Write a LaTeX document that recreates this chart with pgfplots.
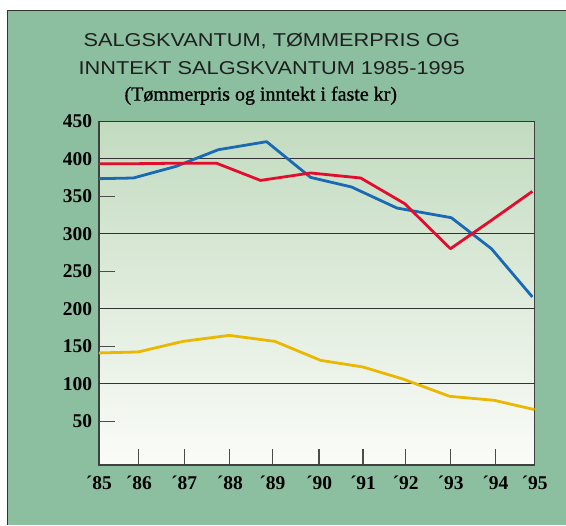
\documentclass[border=0pt]{standalone}
\usepackage{fontspec}
\usepackage{pgfplots}
\pgfplotsset{compat=1.18}
\setmainfont{Liberation Serif}
\newfontfamily\titlefont{Liberation Sans}[FakeStretch=1.17]
\newfontfamily\subfont{Liberation Serif}[FakeBold=0.8]
\definecolor{framegreen}{RGB}{140,190,160}
\definecolor{plottop}{RGB}{194,219,191}
\definecolor{plotbottom}{RGB}{251,252,249}
\definecolor{sblue}{RGB}{25,105,180}
\definecolor{sred}{RGB}{226,12,45}
\definecolor{syellow}{RGB}{234,184,0}
\begin{document}
\begin{tikzpicture}[x=1pt,y=1pt]
\fill[white] (0,0) rectangle (566,-525);
\fill[framegreen] (8,-11) rectangle (566,-525);
\draw[black!80, line width=1pt] (8,-525) -- (8,-11) -- (566,-11);
\node[font=\titlefont\fontsize{18.6}{22}\selectfont, anchor=base, inner sep=0pt, text=black!88] at (272,-46.7) {SALGSKVANTUM, TØMMERPRIS OG};
\node[font=\titlefont\fontsize{18.6}{22}\selectfont, anchor=base, inner sep=0pt, text=black!88] at (272,-74.3) {INNTEKT SALGSKVANTUM 1985-1995};
\node[font=\subfont\fontsize{20}{22}\selectfont, anchor=base, inner sep=0pt] at (261,-100.7) {(Tømmerpris og inntekt i faste kr)};
\begin{axis}[
  at={(99pt,-465.3pt)}, anchor=south west,
  scale only axis, width=436pt, height=344pt,
  xmin=0, xmax=10, ymin=-8, ymax=450,
  axis background/.style={shade, top color=plottop, bottom color=plotbottom},
  axis line style={draw=black!75, line width=1.3pt},
  xtick={0,0.917,1.956,3.005,3.984,5.053,6.062,7.041,8.073,9.099,10},
  xticklabels={´85,´86,´87,´88,´89,´90,´91,´92,´93,´94,´95},
  ytick={50,150,250,350},
  extra y ticks={100,200,300,400,450},
  extra y tick style={grid=major, major tick length=0pt, major grid style={draw=black!80, line width=1.2pt}},
  tick align=inside, major tick length=16pt,
  xtick pos=bottom, ytick pos=left,
  tick style={draw=black!70, line width=1.1pt},
  ticklabel style={font=\fontsize{19.5}{20}\selectfont\bfseries},
  yticklabel style={anchor=east, inner sep=0pt, xshift=-6.5pt},
  xticklabel style={anchor=north, inner sep=0pt, yshift=-11pt},
  /pgf/number format/assume math mode=true,
  every axis plot/.append style={line width=2.8pt, line join=round, mark=none},
]
\addplot[syellow] coordinates {(0,141.2)(0.90,142.5)(1.93,156.6)(2.99,164.6)(4.04,156.6)(5.09,131.3)(6.06,122.5)(6.97,106.6)(8.05,83.4)(9.07,78.1)(10,65.7)};
\addplot[sblue] coordinates {(0,373.4)(0.79,374.3)(1.77,389.8)(2.74,412)(3.85,422.7)(4.86,375.1)(5.80,362.3)(6.84,334.3)(8.09,321.4)(9.01,280.1)(9.95,215.8)};
\addplot[sred] coordinates {(0,393.4)(0.89,393.4)(1.77,394)(2.70,394)(3.71,371.1)(4.86,381)(6.01,374.3)(7.02,340.1)(8.07,280.1)(9.0,317.5)(9.95,356.5)};
\end{axis}
\end{tikzpicture}
\end{document}
